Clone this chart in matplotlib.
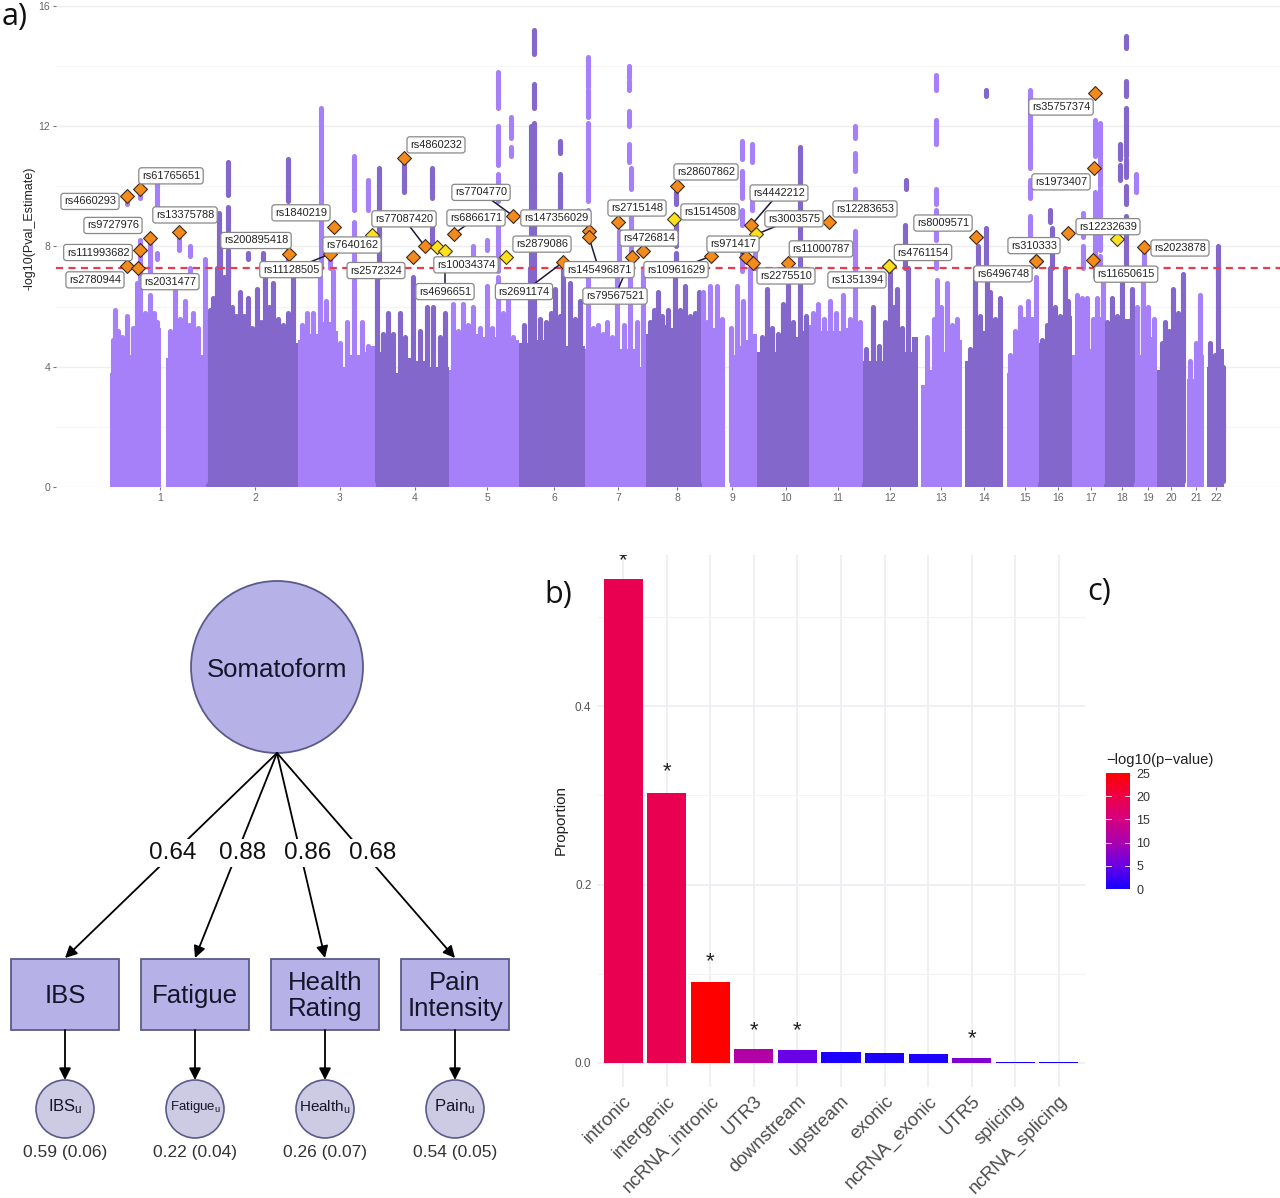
import numpy as np
import matplotlib
matplotlib.use("Agg")
import matplotlib.pyplot as plt
from matplotlib.colors import LinearSegmentedColormap, Normalize
from matplotlib.cm import ScalarMappable
from matplotlib.patches import Ellipse, Rectangle

plt.rcParams['font.family'] = ['Liberation Sans', 'DejaVu Sans']
plt.rcParams['mathtext.default'] = 'regular'

# ---------- Manhattan data (genome axis position, -log10 p) ----------
chrom_labels = [str(i) for i in range(1, 23)]
chrom_ticks = [160, 255, 340, 415, 487, 554, 618, 677, 732, 786, 838, 890, 941, 984, 1025, 1058, 1091, 1122, 1148, 1171, 1196, 1216]
# solid body of each contig: chromosome index, positions, upper envelope
body_chrom = [1, 1, 2, 3, 4, 5, 6, 7, 8, 9, 9, 10, 11, 12, 13, 14, 15, 16, 17, 18, 19, 20, 21, 22]
body_x = [
    [110, 113, 118, 125, 133, 140, 148, 155, 161],
    [166, 170, 180, 190, 200, 206],
    [206, 215, 225, 235, 240, 245, 255, 265, 275, 285, 292, 298],
    [298, 310, 322, 332, 338, 342, 350, 360, 368, 376],
    [376, 385, 395, 405, 415, 425, 435, 445, 449],
    [449, 453, 465, 478, 490, 500, 510, 519],
    [519, 530, 545, 555, 565, 575, 585],
    [585, 595, 605, 615, 625, 635, 646],
    [646, 655, 668, 678, 690, 702],
    [702, 712, 720, 725],
    [730, 738, 745, 752, 757],
    [757, 765, 775, 785, 795, 803, 809],
    [809, 820, 830, 845, 855, 862],
    [862, 872, 885, 895, 905, 912, 918],
    [921, 927, 935, 945, 955, 962],
    [965, 975, 985, 995, 1003],
    [1007, 1014, 1022, 1030, 1038],
    [1038, 1050, 1058, 1066, 1072],
    [1072, 1085, 1095, 1104],
    [1104, 1115, 1125, 1134],
    [1134, 1143, 1152, 1157],
    [1157, 1165, 1173, 1180, 1185],
    [1187, 1195, 1200, 1204],
    [1207, 1214, 1220, 1224],
]
body_top = [
    [3.8, 4.3, 4.6, 4.4, 4.7, 5.0, 5.2, 5.3, 3.5],
    [4.3, 4.4, 4.4, 4.7, 4.4, 4.5],
    [5.0, 5.5, 5.2, 4.6, 4.1, 4.5, 4.3, 4.4, 4.2, 4.3, 4.8, 4.5],
    [4.9, 5.1, 5.5, 5.2, 3.8, 4.0, 4.4, 4.5, 4.7, 4.5],
    [4.5, 4.4, 3.8, 4.3, 4.2, 4.0, 4.0, 4.0, 3.9],
    [3.9, 5.0, 5.1, 5.0, 5.0, 4.9, 4.9, 4.8],
    [4.8, 4.9, 4.9, 5.0, 4.7, 4.7, 4.9],
    [4.6, 4.5, 4.8, 4.6, 4.6, 4.0, 4.9],
    [5.1, 5.4, 5.3, 5.6, 5.2, 5.2],
    [5.0, 5.3, 4.9, 4.9],
    [4.4, 4.7, 4.9, 5.1, 4.8],
    [4.5, 4.6, 4.5, 4.9, 5.0, 5.2, 5.4],
    [5.4, 5.2, 5.2, 5.3, 5.0, 4.3],
    [4.2, 4.2, 4.3, 4.4, 4.5, 5.0, 4.0],
    [3.4, 3.9, 4.5, 5.1, 4.9, 4.0],
    [4.2, 5.2, 5.0, 5.1, 4.3],
    [3.8, 4.4, 5.4, 5.5, 5.4],
    [4.8, 4.7, 5.4, 5.7, 5.6],
    [4.4, 4.6, 5.0, 4.6],
    [4.8, 5.0, 5.6, 4.5],
    [4.4, 5.0, 5.1, 4.4],
    [3.9, 4.8, 5.4, 5.8, 6.0],
    [3.6, 3.7, 4.4, 3.6],
    [4.0, 4.0, 4.6, 3.5],
]
# columns of SNPs rising out of the body
peak_x = [113, 115, 118, 122, 127, 133, 137, 140, 145, 150, 154, 157,
          170, 175, 180, 185, 189, 193, 198, 205,
          210, 213, 217, 220, 224, 228, 232, 236, 240, 244, 248, 252, 257, 261, 265, 269, 273, 278, 283, 288, 293,
          302, 307, 313, 320, 326, 333, 340, 347, 354, 362, 368, 377,
          383, 388, 393, 400, 405, 413, 420, 427, 433, 440, 445,
          453, 458, 463, 468, 473, 480, 487, 492, 498, 503, 508, 513,
          524, 530, 534, 540, 546, 551, 555, 560, 563, 570, 575, 580,
          588, 593, 598, 603, 607, 612, 617, 624, 630, 637, 643,
          650, 654, 658, 662, 668, 675, 680, 685, 690, 695, 699,
          703, 707, 710, 717, 722,
          731, 737, 743, 750,
          762, 767, 772, 778, 783, 788, 793, 800, 806,
          813, 818, 824, 830, 836, 843, 850, 855, 860,
          866, 873, 879, 885, 890, 894, 897, 902, 908, 913,
          927, 934, 937, 941, 947, 952, 957,
          970, 975, 980, 987, 990, 995, 1000,
          1010, 1015, 1020, 1024, 1028, 1032, 1036,
          1042, 1047, 1050, 1055, 1060, 1065, 1068,
          1077, 1082, 1087, 1093, 1097, 1100, 1103,
          1107, 1112, 1117, 1122, 1127, 1132,
          1137, 1143, 1148, 1154,
          1162, 1165, 1169, 1173, 1178, 1183,
          1190, 1196, 1200,
          1210, 1215, 1218, 1223]
peak_top = [4.9, 5.9, 5.2, 5.0, 5.7, 5.3, 6.8, 7.3, 5.8, 6.4, 5.8, 5.5,
            5.2, 6.6, 5.6, 6.2, 5.4, 5.8, 5.3, 7.6,
            5.9, 6.3, 7.3, 8.0, 7.0, 7.4, 6.0, 5.7, 6.5, 5.7, 6.3, 5.3, 6.6, 5.5, 7.0, 6.0, 6.8, 5.6, 5.4, 5.8, 7.0,
            5.4, 5.8, 5.8, 7.0, 6.2, 7.2, 4.8, 5.5, 7.3, 5.5, 4.7, 7.3,
            5.1, 5.8, 5.1, 5.8, 5.0, 7.0, 5.2, 6.0, 6.0, 5.0, 5.8,
            6.1, 5.2, 6.1, 5.4, 6.0, 5.3, 6.7, 5.3, 7.0, 5.8, 6.6, 5.0,
            5.4, 7.3, 7.3, 5.6, 5.5, 5.8, 6.6, 5.7, 7.3, 6.8, 5.6, 6.2,
            7.3, 5.3, 5.4, 5.1, 5.5, 5.0, 7.0, 5.4, 7.3, 5.5, 7.3,
            5.5, 5.9, 6.5, 5.7, 5.9, 7.3, 5.9, 6.7, 5.7, 5.8, 6.5,
            6.5, 5.5, 6.7, 6.7, 5.6,
            5.3, 6.7, 6.2, 7.3,
            5.0, 6.6, 5.3, 5.1, 6.1, 7.3, 5.5, 7.3, 5.7,
            5.8, 6.1, 5.6, 6.2, 5.8, 6.4, 5.6, 7.3, 5.5,
            4.6, 6.0, 4.7, 5.5, 7.2, 6.0, 6.6, 5.3, 7.3, 4.2,
            5.0, 5.6, 6.9, 6.0, 6.8, 5.4, 5.6,
            4.6, 7.3, 5.7, 7.3, 6.5, 5.6, 6.3,
            4.4, 5.2, 6.0, 5.6, 6.2, 5.6, 7.0,
            4.9, 5.4, 7.3, 6.0, 5.7, 7.3, 6.2,
            6.4, 6.3, 6.3, 5.6, 6.3, 5.6, 7.0,
            5.5, 6.3, 5.7, 7.0, 5.4, 6.6,
            6.0, 7.3, 6.0, 5.6,
            4.8, 5.5, 5.2, 6.6, 5.8, 7.1,
            4.2, 4.8, 6.4,
            4.8, 4.4, 7.3, 4.0]
# stretches of significant SNPs above the body
seg_x = [127, 127, 140, 140, 150, 157, 157, 157, 157, 157, 179, 190, 190, 190, 190,
         219, 228, 228, 228, 248, 263, 288, 288, 321, 330, 354, 354, 368, 379, 404, 418, 418, 418,
         432, 432, 473, 487, 487, 498, 498, 498, 498, 511, 511,
         534, 534, 534, 534, 534, 531, 560, 560, 560, 588, 588, 588, 588,
         619, 629, 629, 629, 629, 629, 631, 631, 631, 631,
         676, 676, 676, 742, 742, 742, 742, 752, 752, 752, 755,
         800, 800, 855, 855, 855, 855, 855, 855,
         906, 906, 905, 936, 936, 936, 936, 936, 936, 936, 936, 936,
         986, 978, 978, 978, 978, 986,
         1030, 1030, 1030, 1030, 1030, 1030, 1050, 1052,
         1075, 1075, 1083, 1083, 1095, 1095, 1095, 1095, 1095, 1100, 1100, 1100, 1100,
         1120, 1120, 1120, 1120, 1120, 1126, 1126, 1126, 1126, 1126, 1126, 1126, 1126,
         1136, 1144, 1154, 1218]
seg_low = [9.4, 7.3, 9.6, 7.3, 7.0, 11.2, 10.8, 9.0, 8.4, 7.6, 7.9, 9.3, 8.7, 7.7, 7.0,
           7.0, 9.7, 8.0, 7.0, 7.6, 7.3, 9.5, 7.2, 7.3, 7.3, 9.2, 7.4, 9.2, 7.0, 9.8, 14.2, 12.35, 10.6,
           9.6, 8.0, 7.6, 7.9, 8.6, 12.6, 10.7, 9.5, 7.2, 11.6, 11.0,
           14.4, 14.1, 13.8, 12.6, 7.3, 7.3, 11.1, 8.9, 8.5, 13.3, 12.3, 9.5, 8.5,
           7.3, 13.6, 13.2, 12.8, 12.0, 10.8, 9.9, 9.8, 8.4, 7.3,
           9.4, 8.0, 7.2, 10.9, 9.6, 8.7, 7.2, 10.8, 10.6, 9.2, 7.3,
           11.65, 7.3, 12.9, 11.6, 11.4, 10.5, 9.2, 7.3,
           9.9, 9.5, 7.3, 13.2, 11.4, 11.2, 11.0, 10.7, 10.3, 9.4, 8.2, 7.3,
           13.0, 7.3, 10.4, 9.8, 9.5, 7.3,
           13.7, 11.4, 10.6, 9.6, 9.3, 8.1, 8.8, 7.3,
           9.2, 8.4, 8.3, 7.3, 11.0, 10.8, 8.9, 7.5, 7.0, 10.0, 9.0, 7.9, 7.2,
           10.9, 10.2, 9.9, 9.5, 8.9, 14.6, 14.3, 14.0, 13.0, 11.0, 10.3, 9.4, 7.3,
           9.8, 7.4, 8.5, 7.0]
seg_high = [9.7, 8.0, 9.8, 8.2, 8.3, 11.2, 10.8, 10.1, 8.4, 7.8, 8.5, 9.3, 8.7, 8.0, 7.3,
            9.1, 10.8, 9.3, 7.9, 7.8, 7.8, 10.9, 7.9, 12.6, 7.7, 11.0, 8.8, 10.2, 10.6, 10.9, 14.2, 12.35, 10.6,
            10.6, 9.0, 8.0, 8.2, 8.6, 13.8, 12.0, 10.4, 9.0, 12.3, 11.3,
            15.2, 14.1, 13.8, 13.4, 12.1, 12.0, 11.5, 10.4, 8.5, 14.3, 13.2, 12.1, 9.2,
            8.5, 14.0, 13.5, 12.8, 12.5, 11.4, 10.6, 9.8, 9.0, 8.4,
            9.8, 9.0, 7.8, 11.5, 10.5, 9.2, 8.0, 11.4, 10.6, 9.5, 8.5,
            11.65, 11.3, 12.9, 12.0, 11.4, 11.1, 9.9, 8.5,
            10.2, 9.5, 8.7, 13.7, 12.2, 11.2, 11.0, 10.7, 10.3, 9.9, 9.2, 8.0,
            13.2, 8.0, 10.4, 9.8, 9.5, 8.6,
            13.7, 13.2, 11.4, 10.2, 9.3, 9.0, 9.2, 8.6,
            9.2, 8.4, 9.1, 8.0, 12.2, 10.8, 9.8, 8.7, 7.5, 12.1, 9.9, 8.5, 7.7,
            11.4, 10.7, 9.9, 9.5, 8.9, 15.0, 14.3, 14.0, 13.5, 12.6, 10.9, 10.0, 9.0,
            10.4, 8.0, 8.5, 8.0]
genome_threshold = 7.3

# lead SNPs: name, position, -log10 p, flag for the yellow class, label position
snp_names = ['rs4660293', 'rs61765651', 'rs9727976', 'rs13375788', 'rs111993682', 'rs2780944', 'rs2031477',
             'rs200895418', 'rs11128505', 'rs1840219', 'rs7640162', 'rs2572324', 'rs77087420', 'rs4860232',
             'rs6866171', 'rs10034374', 'rs4696651', 'rs7704770', 'rs147356029', 'rs2879086', 'rs2691174',
             'rs145496871', 'rs79567521', 'rs2715148', 'rs4726814', 'rs28607862', 'rs1514508', 'rs10961629',
             'rs971417', 'rs4442212', 'rs3003575', 'rs2275510', 'rs11000787', 'rs12283653', 'rs1351394',
             'rs4761154', 'rs8009571', 'rs6496748', 'rs310333', 'rs35757374', 'rs1973407', 'rs12232639',
             'rs11650615', 'rs2023878']
snp_x = [127, 140, 150, 179, 140, 127, 138, 289, 330, 334, 372, 413, 425, 404, 454, 437, 445, 513, 589, 506, 563,
         589, 632, 618, 643, 677, 674, 711, 746, 751, 756, 753, 788, 829, 889, 889, 976, 1036, 1036, 1095, 1094,
         1068, 1093, 1144]
snp_y = [9.68, 9.91, 8.28, 8.48, 7.88, 7.35, 7.29, 7.75, 7.75, 8.65, 8.38, 7.65, 8.0, 10.94, 8.42, 7.98, 7.85, 9.02,
         8.5, 7.65, 7.48, 8.3, 7.65, 8.82, 7.85, 10.0, 8.9, 7.68, 7.65, 8.7, 8.4, 7.45, 7.45, 8.82, 7.35, 7.35, 8.32,
         7.52, 7.52, 13.1, 10.6, 8.45, 7.55, 7.98]
snp_yellow = ['rs7640162', 'rs10034374', 'rs4696651', 'rs2879086', 'rs1514508', 'rs3003575', 'rs1351394', 'rs4761154']
snp_linked = ['rs11128505', 'rs77087420', 'rs6866171', 'rs4696651', 'rs7704770', 'rs2691174', 'rs145496871',
              'rs79567521', 'rs10961629', 'rs971417', 'rs4442212', 'rs3003575']
extra_yellow_x = [1117]
extra_yellow_y = [8.25]
label_x = [90, 171, 113, 185, 98, 95, 170, 256, 291, 301, 352, 376, 404, 436, 476, 466, 445, 481, 556, 542, 524,
           599, 615, 637, 649, 706, 710, 676, 733, 779, 794, 786, 821, 865, 857, 923, 943, 1003, 1034, 1061, 1061,
           1108, 1126, 1180]
label_y = [9.5, 10.35, 8.7, 9.05, 7.8, 6.89, 6.83, 8.2, 7.23, 9.12, 8.05, 7.2, 8.92, 11.38, 8.95, 7.39, 6.5, 9.8,
           8.95, 8.08, 6.5, 7.23, 6.35, 9.28, 8.28, 10.48, 9.15, 7.23, 8.08, 9.78, 8.92, 7.02, 7.92, 9.25, 6.89, 7.8,
           8.78, 7.09, 8.03, 12.64, 10.15, 8.66, 7.08, 7.95]

# ---------- annotation enrichment bars ----------
categories = ['intronic', 'intergenic', 'ncRNA_intronic', 'UTR3', 'downstream', 'upstream', 'exonic',
              'ncRNA_exonic', 'UTR5', 'splicing', 'ncRNA_splicing']
proportion = [0.543, 0.303, 0.091, 0.0155, 0.0145, 0.012, 0.011, 0.0105, 0.005, 0.0006, 0.0006]
log_p = [19, 19, 25, 11, 5, 0.5, 0.5, 0.5, 7, 0, 0]
star_cat = [0, 1, 2, 3, 4, 8]
star_y = [0.563, 0.327, 0.1135, 0.036, 0.036, 0.027]

# ---------- factor model ----------
factor_name = 'Somatoform'
indicators = ['IBS', 'Fatigue', 'Health\nRating', 'Pain\nIntensity']
loadings = ['0.64', '0.88', '0.86', '0.68']
unique_names = ['IBS$_{u}$', 'Fatigue$_{u}$', 'Health$_{u}$', 'Pain$_{u}$']
unique_vals = ['0.59 (0.06)', '0.22 (0.04)', '0.26 (0.07)', '0.54 (0.05)']

W, H = 1280, 1198
fig = plt.figure(figsize=(W / 100, H / 100), dpi=100, facecolor='white')


def axes_px(l, t, r, b, **kw):
    return fig.add_axes([l / W, 1 - b / H, (r - l) / W, (b - t) / H], **kw)


# ---------- panel a ----------
LIGHT, DARK = '#A680F8', '#8367CB'
ax = axes_px(56, 6, 1280, 487)
ax.set_xlim(56, 1280)
ax.set_ylim(0, 16)
for s in ax.spines.values():
    s.set_visible(False)
ax.set_yticks([0, 4, 8, 12, 16])
ax.set_yticks([2, 6, 10, 14], minor=True)
ax.grid(True, which='major', axis='y', color='#eeeeee', lw=1.0, zorder=0)
ax.grid(True, which='minor', axis='y', color='#f6f6f6', lw=0.8, zorder=0)
ax.tick_params(axis='y', which='minor', length=0)
ax.tick_params(axis='both', which='major', length=2.2, width=0.8, color='#777777', labelcolor='#666666',
               labelsize=7.5, pad=2)
ax.set_xticks(chrom_ticks)
ax.set_xticklabels(chrom_labels)
ax.set_ylabel('-log10(Pval_Estimate)', fontsize=9, color='#222222')
ax.yaxis.set_label_coords((36 - 56) / 1224, (487 - 228) / 481)

bounds = [x[-1] for x in body_x]
body_start = [x[0] for x in body_x]


def colour_at(x):
    for c, a, b in zip(body_chrom, body_start, bounds):
        if a <= x < b:
            return LIGHT if c % 2 else DARK
    return LIGHT


for c, xs, ts in zip(body_chrom, body_x, body_top):
    col = LIGHT if c % 2 else DARK
    ax.fill_between(xs, 0, ts, step='post', color=col, lw=0, zorder=2, clip_on=False)

ax.vlines(peak_x, 0.2, peak_top, colors=[colour_at(x) for x in peak_x], lw=3.7, capstyle='round', zorder=2)
ax.vlines(seg_x, seg_low, seg_high, colors=[colour_at(x) for x in seg_x], lw=3.7, capstyle='round', zorder=2)
ax.plot([56, 1280], [genome_threshold] * 2, color='#F0394A', lw=1.6, ls=(0, (3.2, 2.4)), zorder=3)

for n, x, y, lx, ly in zip(snp_names, snp_x, snp_y, label_x, label_y):
    if n in snp_linked:
        ax.plot([x, lx], [y, ly], color='#1a1a3a', lw=1.1, zorder=4)
mx = [x for n, x in zip(snp_names, snp_x) if n not in snp_yellow]
my = [y for n, y in zip(snp_names, snp_y) if n not in snp_yellow]
yx = [x for n, x in zip(snp_names, snp_x) if n in snp_yellow] + extra_yellow_x
yy = [y for n, y in zip(snp_names, snp_y) if n in snp_yellow] + extra_yellow_y
ax.scatter(mx, my, marker='D', s=50, c='#F28A1C', edgecolors='#3d2a1a', linewidths=0.8, zorder=5)
ax.scatter(yx, yy, marker='D', s=50, c='#FFE01E', edgecolors='#3d3a1a', linewidths=0.8, zorder=5)
for n, lx, ly in zip(snp_names, label_x, label_y):
    ax.text(lx, ly, n, ha='center', va='center', fontsize=7.9, color='#222222', zorder=6,
            bbox=dict(boxstyle='round,pad=0.28,rounding_size=0.25', fc='white', ec='#888888', lw=0.9))

# ---------- panel c colour scale and bars ----------
cmap = LinearSegmentedColormap.from_list('p', [(0, '#1400FF'), (0.2, '#6A00E6'), (0.4, '#A800AE'),
                                               (0.6, '#D40080'), (0.8, '#EE0046'), (1, '#FF0000')])
norm = Normalize(0, 25)
bx = axes_px(597, 555, 1085, 1087)
bx.set_xlim(-0.6, 10.6)
bx.set_ylim(-0.027, 0.5695)
for s in bx.spines.values():
    s.set_visible(False)
bx.set_axisbelow(True)
bx.set_yticks([0, 0.2, 0.4])
bx.set_yticklabels(['0.0', '0.2', '0.4'])
bx.set_yticks([0.1, 0.3, 0.5], minor=True)
bx.grid(True, which='major', color='#eeeef2', lw=1.2)
bx.grid(True, which='minor', axis='y', color='#f3f3f6', lw=0.8)
bx.tick_params(axis='both', which='both', length=0)
bx.tick_params(axis='y', labelsize=8.5, labelcolor='#555555', pad=4)
bx.set_xticks(range(len(categories)))
bx.set_xticklabels(categories, rotation=45, ha='right', rotation_mode='anchor', fontsize=13.4, color='#4d4d4d')
bx.tick_params(axis='x', pad=4)
bx.bar(range(len(categories)), proportion, width=0.9, color=cmap(norm(np.array(log_p))), zorder=3)
for i, y in zip(star_cat, star_y):
    bx.text(i, y, '*', ha='center', va='center', fontsize=16, color='#222222', zorder=4, clip_on=True)
bx.set_ylabel('Proportion', fontsize=11, color='#222222')
bx.yaxis.set_label_coords((568 - 597) / 488, (1087 - 820) / 532)

cax = axes_px(1106, 773, 1130, 889)
cb = fig.colorbar(ScalarMappable(norm=norm, cmap=cmap), cax=cax)
cb.outline.set_visible(False)
cb.set_ticks([0, 5, 10, 15, 20, 25])
cb.ax.tick_params(length=0, labelsize=9, labelcolor='#333333', pad=4.5)
for t in [5, 10, 15, 20]:
    cax.plot([0, 0.2], [t, t], color='white', lw=0.6, transform=cax.get_yaxis_transform())
    cax.plot([0.8, 1], [t, t], color='white', lw=0.6, transform=cax.get_yaxis_transform())
fig.text(1106 / W, 1 - 760 / H, '\u2212log10(p\u2212value)', fontsize=10.6, color='#222222', va='center', ha='left')

# ---------- panel b factor model (pixel canvas) ----------
sx = axes_px(0, 555, 530, 1198)
sx.set_xlim(0, 530)
sx.set_ylim(1198, 555)
sx.axis('off')
BOX, PALE, EDGE = '#B6B1E6', '#CDCBE3', '#5A5A8C'
ROOT = (277, 753)
box_l = [11, 141, 271, 401]
centres = [65, 195, 325, 455]
label_cx = [173, 243, 308, 373]
sx.add_patch(Ellipse((277, 667), 172, 172, fc=BOX, ec=EDGE, lw=1.3))
sx.text(277, 670, factor_name, ha='center', va='center', fontsize=18.5, color='#15152a')
for i in range(4):
    c = centres[i]
    sx.annotate('', xy=(c, 958), xytext=ROOT,
                arrowprops=dict(arrowstyle='-|>,head_length=0.7,head_width=0.35', color='black', lw=1.3,
                                shrinkA=0, shrinkB=0))
    sx.text(label_cx[i], 853, loadings[i], ha='center', va='center', fontsize=17.5, color='#111111',
            bbox=dict(fc='white', ec='none', pad=2), zorder=5)
    sx.add_patch(Rectangle((box_l[i], 959), 108, 71, fc=BOX, ec=EDGE, lw=1.3))
    sx.text(c, 996, indicators[i], ha='center', va='center', fontsize=18.5, color='#15152a', linespacing=1.12)
    sx.annotate('', xy=(c, 1080), xytext=(c, 1030),
                arrowprops=dict(arrowstyle='-|>,head_length=0.7,head_width=0.35', color='black', lw=1.3,
                                shrinkA=0, shrinkB=0))
    sx.add_patch(Ellipse((c, 1109), 58, 58, fc=PALE, ec=EDGE, lw=1.2))
    sx.text(c, 1107, unique_names[i], ha='center', va='center', color='#15152a',
            fontsize=[12, 9.5, 11, 12][i])
    sx.text(c, 1153, unique_vals[i], ha='center', va='center', fontsize=12.5, color='#333333')

for txt, x, y in [('a)', 2, 17), ('b)', 544, 595), ('c)', 1087, 592)]:
    fig.text(x / W, 1 - y / H, txt, fontsize=22, family=['Open Sans', 'DejaVu Sans'], color='#111111',
             va='center', ha='left')

fig.savefig('out.png', dpi=100, facecolor='white')
